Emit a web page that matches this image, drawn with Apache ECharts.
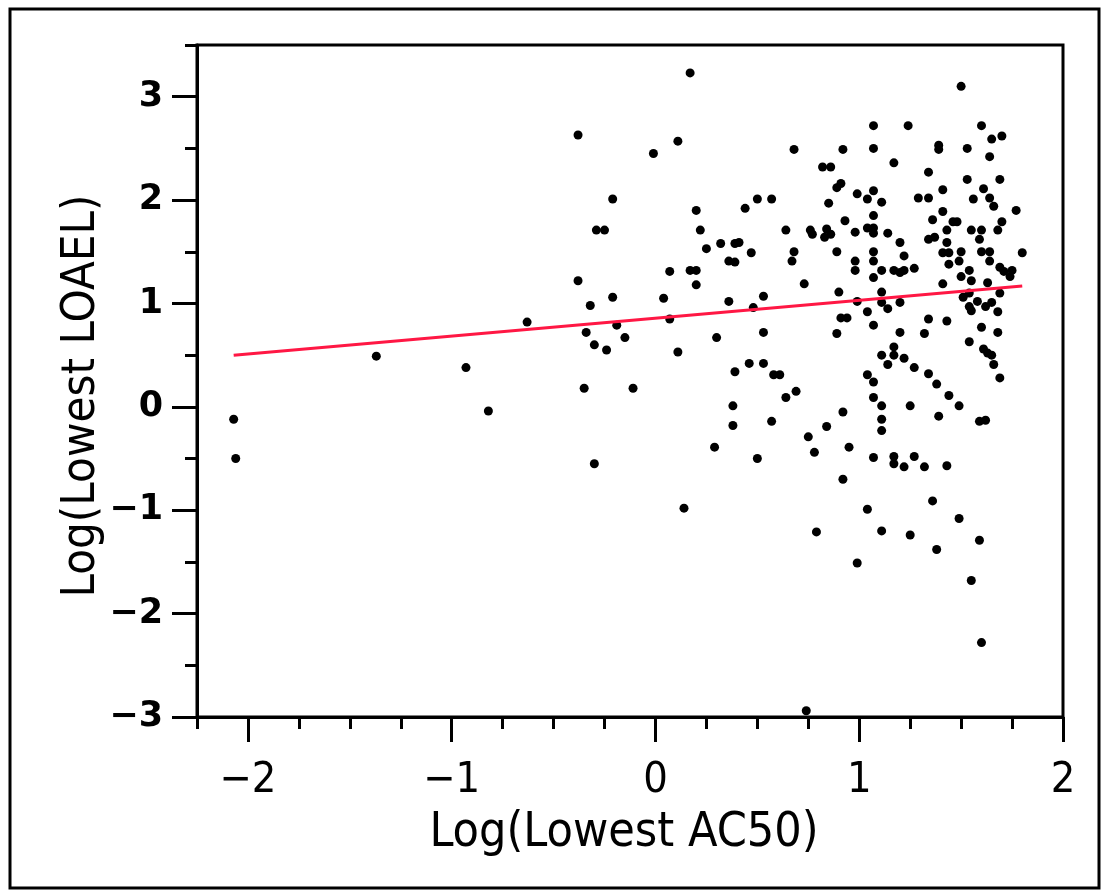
<!DOCTYPE html>
<html><head><meta charset="utf-8">
<script src="https://cdn.jsdelivr.net/npm/echarts@6/dist/echarts.min.js"></script>
<style>html,body{margin:0;padding:0;background:#fff}#c{width:1108px;height:896px}</style>
</head><body><div id="c"></div>
<script>
// Log(Lowest AC50) values (x)
const logAC50 = [
 -2.07,-2.06,-1.37,-0.93,-0.82,
 0.17,-0.38,0.11,-0.01,-0.21,0.20,0.44,0.50,0.57,-0.29,-0.25,0.22,0.25,0.32,0.39,
 0.41,0.47,0.36,0.39,0.07,0.17,0.20,0.20,-0.38,-0.21,-0.32,0.04,0.36,0.53,0.48,
 -0.63,0.07,-0.19,-0.34,-0.15,-0.30,-0.24,0.11,0.30,0.53,0.39,0.46,0.53,0.58,0.61,
 -0.35,-0.11,-0.30,0.14,0.38,0.38,0.57,0.29,0.50,
 1.07,1.24,0.68,0.92,1.07,0.82,0.86,1.17,0.89,0.91,0.85,0.99,1.04,1.07,1.11,1.07,
 0.93,0.64,0.76,0.77,0.84,0.86,0.83,0.98,1.04,1.07,1.07,1.14,1.20,1.22,0.68,0.67,
 0.89,0.98,0.98,1.07,1.07,1.11,1.07,1.17,1.20,1.22,0.73,0.90,1.11,0.99,1.11,1.20,
 1.14,1.04,0.91,0.94,1.07,0.89,1.20,1.17,1.11,1.17,1.22,
 1.14,0.64,0.69,1.04,1.07,1.07,1.11,1.11,1.11,0.92,0.84,0.75,0.78,0.95,1.07,1.17,
 1.17,1.22,0.92,1.04,0.79,1.11,0.99,1.25,0.74,
 1.27,1.34,1.38,1.44,1.49,1.25,1.39,1.59,1.62,1.27,1.32,1.43,1.36,1.49,1.59,1.38,
 1.55,1.60,1.66,1.69,
 1.50,1.60,1.65,1.70,1.39,1.39,1.53,1.64,1.34,1.53,1.69,1.41,1.61,1.29,1.34,1.56,
 1.64,1.66,1.77,1.41,1.36,1.46,1.48,1.70,1.43,1.55,1.60,1.68,1.59,1.34,1.37,1.43,
 1.41,1.44,1.50,1.60,1.64,1.80,1.44,1.49,1.64,1.27,1.54,1.69,1.71,1.75,1.74,1.50,
 1.55,1.41,1.63,1.69,1.51,1.54,1.58,1.54,1.55,1.62,1.65,1.68,1.34,1.43,1.60,1.32,
 1.68,1.54,1.61,1.63,1.65
];
// Log(Lowest LOAEL) values (y)
const logLOAEL = [
 -0.12,-0.50,0.49,0.38,-0.04,
 3.23,2.63,2.57,2.45,2.01,1.90,1.92,2.01,2.01,1.71,1.71,1.71,1.53,1.58,1.58,
 1.59,1.49,1.41,1.40,1.31,1.32,1.32,1.18,1.22,1.06,0.98,1.05,1.02,1.07,0.96,
 0.82,0.85,0.79,0.72,0.67,0.60,0.55,0.53,0.67,0.72,0.34,0.42,0.42,0.31,0.31,
 0.18,0.18,-0.55,-0.98,0.01,-0.18,-0.14,-0.39,-0.50,
 2.72,2.72,2.49,2.49,2.50,2.32,2.32,2.36,2.12,2.16,1.97,2.06,2.01,2.09,1.98,1.85,
 1.80,1.71,1.71,1.67,1.72,1.67,1.64,1.69,1.73,1.73,1.68,1.68,1.59,1.46,1.50,1.41,
 1.50,1.41,1.32,1.50,1.41,1.32,1.25,1.32,1.30,1.32,1.19,1.11,1.11,1.02,1.01,1.01,
 0.95,0.92,0.86,0.86,0.79,0.71,0.72,0.58,0.50,0.50,0.47,
 0.41,0.09,0.15,0.31,0.24,0.09,0.01,-0.12,-0.23,-0.05,-0.19,-0.29,-0.44,-0.39,-0.49,-0.48,
 -0.55,-0.58,-0.70,-0.99,-1.21,-1.20,-1.51,-1.24,-2.94,
 0.38,0.32,0.22,0.11,0.01,0.01,-0.09,-0.14,-0.13,-0.48,-0.58,-0.57,-0.91,-1.08,-1.29,-1.38,
 -1.68,-2.28,0.41,0.28,
 3.10,2.72,2.59,2.62,2.53,2.49,2.50,2.42,2.27,2.20,2.20,2.10,2.11,2.02,2.02,2.01,
 2.02,1.94,1.90,1.89,1.81,1.79,1.79,1.79,1.71,1.71,1.71,1.71,1.62,1.62,1.64,1.59,
 1.49,1.49,1.50,1.50,1.50,1.49,1.38,1.41,1.41,1.34,1.32,1.35,1.31,1.32,1.26,1.26,
 1.22,1.19,1.20,1.10,1.06,1.10,1.02,0.97,0.93,0.97,1.01,0.92,0.85,0.83,0.77,0.71,
 0.72,0.63,0.56,0.52,0.50
];
const xMajorTicks = [-2, -1, 0, 1, 2];
const yMajorTicks = [-3, -2, -1, 0, 1, 2, 3];
// linear fit shown in red
const fitIntercept = 0.858;
const fitSlope = 0.173;
const fitRange = [-2.07, 1.80];

const points = logAC50.map((x, i) => [x, logLOAEL[i]]);
const fitLine = fitRange.map(x => [x, fitIntercept + fitSlope * x]);
const minus = v => String(v).replace('-', '\u2212');

const chart = echarts.init(document.getElementById('c'), null, {renderer: 'canvas'});
const axisLineStyle = {color: '#000', width: 3};
chart.setOption({
  animation: false,
  backgroundColor: '#fff',
  grid: {left: 197, right: 45, top: 45, bottom: 179, show: true, borderColor: '#000', borderWidth: 3, backgroundColor: 'transparent'},
  graphic: [{type: 'rect', shape: {x: 10, y: 9, width: 1089, height: 879}, style: {fill: 'none', stroke: '#000', lineWidth: 3}, silent: true}],
  xAxis: [
    {type: 'value', position: 'bottom', min: -2.25, max: 2, interval: 0.25,
     axisLine: {show: true, onZero: false, lineStyle: axisLineStyle},
     axisTick: {show: true, length: 12, lineStyle: {color: '#000', width: 3}},
     axisLabel: {show: false}, splitLine: {show: false},
     name: 'Log(Lowest AC50)', nameLocation: 'middle', nameGap: 93,
     nameTextStyle: {fontFamily: 'DejaVu Sans Condensed', fontSize: 48, color: '#000', verticalAlign: 'top', padding: [0, 12, 0, 0]}},
    {type: 'value', position: 'bottom', min: -2.25, max: 2,
     axisLine: {show: false, onZero: false},
     axisTick: {show: true, length: 25, customValues: xMajorTicks, lineStyle: {color: '#000', width: 3}},
     axisLabel: {show: true, customValues: xMajorTicks, formatter: minus, margin: 42,
       fontFamily: 'DejaVu Sans Condensed', fontSize: 43, color: '#000'},
     splitLine: {show: false}}
  ],
  yAxis: [
    {type: 'value', position: 'left', min: -3, max: 3.5, interval: 0.5,
     axisLine: {show: true, onZero: false, lineStyle: axisLineStyle},
     axisTick: {show: true, length: 12, lineStyle: {color: '#000', width: 3}},
     axisLabel: {show: false}, splitLine: {show: false},
     name: 'Log(Lowest LOAEL)', nameLocation: 'middle', nameGap: 92, nameRotate: 90,
     nameTextStyle: {fontFamily: 'DejaVu Sans Condensed', fontSize: 47, color: '#000', verticalAlign: 'bottom', padding: [0, 30, 0, 0]}},
    {type: 'value', position: 'left', min: -3, max: 3.5,
     axisLine: {show: false, onZero: false},
     axisTick: {show: true, length: 25, customValues: yMajorTicks, lineStyle: {color: '#000', width: 3}},
     axisLabel: {show: true, customValues: yMajorTicks, formatter: minus, margin: 34,
       fontFamily: 'DejaVu Sans', fontWeight: 'bold', fontSize: 35, color: '#000'},
     splitLine: {show: false}}
  ],
  series: [
    {type: 'scatter', xAxisIndex: 0, yAxisIndex: 0, data: points, symbol: 'circle', symbolSize: 9,
     itemStyle: {color: '#000', opacity: 1}, z: 2},
    {type: 'line', xAxisIndex: 0, yAxisIndex: 0, data: fitLine, showSymbol: false, symbol: 'none',
     lineStyle: {color: '#ff1744', width: 3}, z: 3}
  ]
});
</script></body></html>
